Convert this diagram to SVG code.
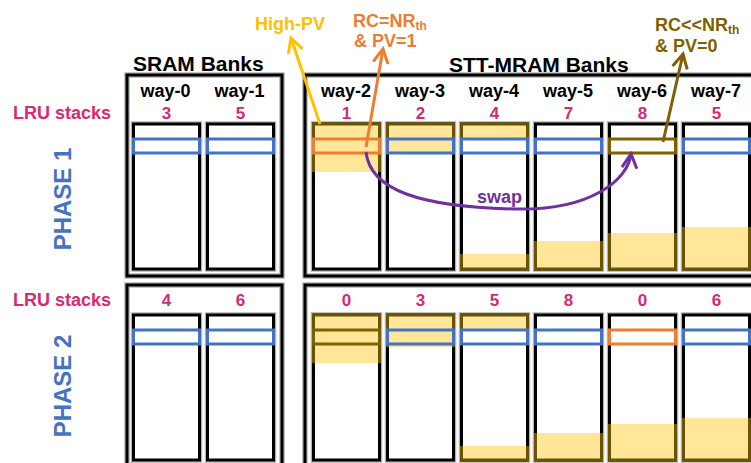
<svg xmlns="http://www.w3.org/2000/svg" width="751" height="463" viewBox="0 0 751 463">
  <style>
    text { font-family: "Liberation Sans", Arial, sans-serif; font-weight: bold; }
    .title { font-size: 21px; fill: #000; }
    .way { font-size: 18px; fill: #000; text-anchor: middle; }
    .lru { font-size: 17px; fill: #D62A72; text-anchor: middle; }
    .lrulbl { font-size: 18px; fill: #D62A72; }
    .phase { font-size: 24px; fill: #4472C4; text-anchor: middle; }
    .bank { fill: none; stroke: #000; stroke-width: 3; }
    .halo { fill: none; stroke: #b4b4b4; stroke-width: 5.5; }
    .col { fill: #fff; stroke: #000; stroke-width: 3; }
    .fill { fill: #FFE699; stroke: none; }
    .edge { fill: none; stroke: #6B5300; stroke-width: 3; }
    .row { fill: none; stroke-width: 3; }
    .blue { stroke: #4472C4; }
    .orange { stroke: #ED7D31; }
    .olive { stroke: #7F6000; }
    .ptr { fill: none; stroke-width: 3; }
  </style>
  <defs>
    <marker id="ah-yellow" markerUnits="userSpaceOnUse" markerWidth="30" markerHeight="30" viewBox="-20 -15 30 30" refX="0" refY="0" orient="auto" overflow="visible">
      <path d="M-14,-7.5 L0,0 L-14,7.5" fill="none" stroke="#FFC000" stroke-width="3"/>
    </marker>
    <marker id="ah-orange" markerUnits="userSpaceOnUse" markerWidth="30" markerHeight="30" viewBox="-20 -15 30 30" refX="0" refY="0" orient="auto" overflow="visible">
      <path d="M-14,-7.5 L0,0 L-14,7.5" fill="none" stroke="#ED7D31" stroke-width="3"/>
    </marker>
    <marker id="ah-olive" markerUnits="userSpaceOnUse" markerWidth="30" markerHeight="30" viewBox="-20 -15 30 30" refX="0" refY="0" orient="auto" overflow="visible">
      <path d="M-14,-7.5 L0,0 L-14,7.5" fill="none" stroke="#7F6000" stroke-width="3"/>
    </marker>
    <marker id="ah-purple" markerUnits="userSpaceOnUse" markerWidth="30" markerHeight="30" viewBox="-20 -15 30 30" refX="0" refY="0" orient="auto" overflow="visible">
      <path d="M-14,-7.5 L0,0 L-14,7.5" fill="none" stroke="#7030A0" stroke-width="3"/>
    </marker>
  </defs>

  <rect width="751" height="463" fill="#fff"/>

  <!-- bank titles -->
  <text class="title" x="133" y="71">SRAM Banks</text>
  <text class="title" x="449" y="71.5">STT-MRAM Banks</text>

  <!-- bank enclosures -->
  <g id="banks">
    <rect class="halo" x="127" y="75" width="155" height="201"/>
    <rect class="bank" x="127" y="75" width="155" height="201"/>
    <rect class="halo" x="305" y="75" width="460" height="201"/>
    <rect class="bank" x="305" y="75" width="460" height="201"/>
    <rect class="halo" x="127" y="285" width="155" height="200"/>
    <rect class="bank" x="127" y="285" width="155" height="200"/>
    <rect class="halo" x="305" y="285" width="460" height="200"/>
    <rect class="bank" x="305" y="285" width="460" height="200"/>
  </g>

  <!-- side labels -->
  <text class="lrulbl" x="13" y="119">LRU stacks</text>
  <text class="lrulbl" x="13" y="306">LRU stacks</text>
  <text class="phase" transform="translate(71,199) rotate(-90)">PHASE 1</text>
  <text class="phase" transform="translate(71,386) rotate(-90)">PHASE 2</text>

  <!-- way headers -->
  <g id="way-headers">
    <text class="way" x="165.5" y="97">way-0</text>
    <text class="way" x="239.5" y="97">way-1</text>
    <text class="way" x="346" y="97">way-2</text>
    <text class="way" x="420" y="97">way-3</text>
    <text class="way" x="494" y="97">way-4</text>
    <text class="way" x="568" y="97">way-5</text>
    <text class="way" x="642" y="97">way-6</text>
    <text class="way" x="716" y="97">way-7</text>
  </g>

  <!-- ===== PHASE 1 ===== -->
  <g id="p1-way-0">
    <text class="lru" x="166.5" y="119">3</text>
    <rect class="halo" x="133.5" y="124" width="66" height="145"/>
    <rect class="col" x="133.5" y="124" width="66" height="145"/>
    <rect class="row blue" x="133.5" y="139" width="66" height="14"/>
  </g>
  <g id="p1-way-1">
    <text class="lru" x="240.5" y="119">5</text>
    <rect class="halo" x="207.5" y="124" width="66" height="145"/>
    <rect class="col" x="207.5" y="124" width="66" height="145"/>
    <rect class="row blue" x="207.5" y="139" width="66" height="14"/>
  </g>
  <g id="p1-way-2">
    <text class="lru" x="346.5" y="119">1</text>
    <rect class="halo" x="313.5" y="124" width="66" height="145"/>
    <rect class="col" x="313.5" y="124" width="66" height="145"/>
    <rect class="fill" x="313.5" y="124" width="66" height="48"/>
    <path class="edge" d="M313.5,172 V124 H379.5 V172"/>
    <rect class="row orange" x="313.5" y="139" width="66" height="14"/>
  </g>
  <g id="p1-way-3">
    <text class="lru" x="420.5" y="119">2</text>
    <rect class="halo" x="387.5" y="124" width="66" height="145"/>
    <rect class="col" x="387.5" y="124" width="66" height="145"/>
    <rect class="fill" x="387.5" y="124" width="66" height="30"/>
    <path class="edge" d="M387.5,154 V124 H453.5 V154"/>
    <rect class="row blue" x="387.5" y="139" width="66" height="14"/>
  </g>
  <g id="p1-way-4">
    <text class="lru" x="494.5" y="119">4</text>
    <rect class="halo" x="461.5" y="124" width="66" height="145"/>
    <rect class="col" x="461.5" y="124" width="66" height="145"/>
    <rect class="fill" x="461.5" y="124" width="66" height="15"/>
    <path class="edge" d="M461.5,139 V124 H527.5 V139"/>
    <rect class="fill" x="461.5" y="254" width="66" height="15"/>
    <path class="edge" d="M461.5,254 V269 H527.5 V254"/>
    <rect class="row blue" x="461.5" y="139" width="66" height="14"/>
  </g>
  <g id="p1-way-5">
    <text class="lru" x="568.5" y="119">7</text>
    <rect class="halo" x="535.5" y="124" width="66" height="145"/>
    <rect class="col" x="535.5" y="124" width="66" height="145"/>
    <rect class="fill" x="535.5" y="241" width="66" height="28"/>
    <path class="edge" d="M535.5,241 V269 H601.5 V241"/>
    <rect class="row blue" x="535.5" y="139" width="66" height="14"/>
  </g>
  <g id="p1-way-6">
    <text class="lru" x="642.5" y="119">8</text>
    <rect class="halo" x="609.5" y="124" width="66" height="145"/>
    <rect class="col" x="609.5" y="124" width="66" height="145"/>
    <rect class="fill" x="609.5" y="233" width="66" height="36"/>
    <path class="edge" d="M609.5,233 V269 H675.5 V233"/>
    <rect class="row olive" x="609.5" y="139" width="66" height="14"/>
  </g>
  <g id="p1-way-7">
    <text class="lru" x="716.5" y="119">5</text>
    <rect class="halo" x="683.5" y="124" width="66" height="145"/>
    <rect class="col" x="683.5" y="124" width="66" height="145"/>
    <rect class="fill" x="683.5" y="227" width="66" height="42"/>
    <path class="edge" d="M683.5,227 V269 H749.5 V227"/>
    <rect class="row blue" x="683.5" y="139" width="66" height="14"/>
  </g>

  <!-- ===== PHASE 2 ===== -->
  <g id="p2-way-0">
    <text class="lru" x="166.5" y="306">4</text>
    <rect class="halo" x="133.5" y="315" width="66" height="145"/>
    <rect class="col" x="133.5" y="315" width="66" height="145"/>
    <rect class="row blue" x="133.5" y="330" width="66" height="14"/>
  </g>
  <g id="p2-way-1">
    <text class="lru" x="240.5" y="306">6</text>
    <rect class="halo" x="207.5" y="315" width="66" height="145"/>
    <rect class="col" x="207.5" y="315" width="66" height="145"/>
    <rect class="row blue" x="207.5" y="330" width="66" height="14"/>
  </g>
  <g id="p2-way-2">
    <text class="lru" x="346.5" y="306">0</text>
    <rect class="halo" x="313.5" y="315" width="66" height="145"/>
    <rect class="col" x="313.5" y="315" width="66" height="145"/>
    <rect class="fill" x="313.5" y="315" width="66" height="48"/>
    <path class="edge" d="M313.5,363 V315 H379.5 V363"/>
    <rect class="row olive" x="313.5" y="330" width="66" height="14"/>
  </g>
  <g id="p2-way-3">
    <text class="lru" x="420.5" y="306">3</text>
    <rect class="halo" x="387.5" y="315" width="66" height="145"/>
    <rect class="col" x="387.5" y="315" width="66" height="145"/>
    <rect class="fill" x="387.5" y="315" width="66" height="32"/>
    <path class="edge" d="M387.5,347 V315 H453.5 V347"/>
    <rect class="row blue" x="387.5" y="330" width="66" height="14"/>
  </g>
  <g id="p2-way-4">
    <text class="lru" x="494.5" y="306">5</text>
    <rect class="halo" x="461.5" y="315" width="66" height="145"/>
    <rect class="col" x="461.5" y="315" width="66" height="145"/>
    <rect class="fill" x="461.5" y="315" width="66" height="15"/>
    <path class="edge" d="M461.5,330 V315 H527.5 V330"/>
    <rect class="fill" x="461.5" y="446" width="66" height="14"/>
    <path class="edge" d="M461.5,446 V460 H527.5 V446"/>
    <rect class="row blue" x="461.5" y="330" width="66" height="14"/>
  </g>
  <g id="p2-way-5">
    <text class="lru" x="568.5" y="306">8</text>
    <rect class="halo" x="535.5" y="315" width="66" height="145"/>
    <rect class="col" x="535.5" y="315" width="66" height="145"/>
    <rect class="fill" x="535.5" y="433" width="66" height="27"/>
    <path class="edge" d="M535.5,433 V460 H601.5 V433"/>
    <rect class="row blue" x="535.5" y="330" width="66" height="14"/>
  </g>
  <g id="p2-way-6">
    <text class="lru" x="642.5" y="306">0</text>
    <rect class="halo" x="609.5" y="315" width="66" height="145"/>
    <rect class="col" x="609.5" y="315" width="66" height="145"/>
    <rect class="fill" x="609.5" y="424" width="66" height="36"/>
    <path class="edge" d="M609.5,424 V460 H675.5 V424"/>
    <rect class="row orange" x="609.5" y="330" width="66" height="14"/>
  </g>
  <g id="p2-way-7">
    <text class="lru" x="716.5" y="306">6</text>
    <rect class="halo" x="683.5" y="315" width="66" height="145"/>
    <rect class="col" x="683.5" y="315" width="66" height="145"/>
    <rect class="fill" x="683.5" y="418" width="66" height="42"/>
    <path class="edge" d="M683.5,418 V460 H749.5 V418"/>
    <rect class="row blue" x="683.5" y="330" width="66" height="14"/>
  </g>

  <!-- callouts and the swap path -->
  <g id="connectors">
    <path class="ptr" stroke="#FFC000" d="M320,124 L291,38" marker-end="url(#ah-yellow)"/>
    <path class="ptr" stroke="#ED7D31" d="M366,147 L383,49" marker-end="url(#ah-orange)"/>
    <path class="ptr" stroke="#7F6000" d="M663,142 L683,54" marker-end="url(#ah-olive)"/>
    <path class="ptr" stroke="#7030A0" d="M366,152 C370,190 420,207 515,209 C590,211 628,180 631,154" marker-end="url(#ah-purple)"/>
  </g>

  <!-- callout texts -->
  <g id="labels">
    <text x="255" y="30" font-size="18" fill="#FFC000">High-PV</text>
    <text x="353" y="27" font-size="18" fill="#ED7D31">RC=NR<tspan font-size="12" dy="3">th</tspan></text>
    <text x="354" y="47" font-size="18" fill="#ED7D31">&amp; PV=1</text>
    <text x="655" y="30.5" font-size="18" fill="#7F6000">RC&lt;&lt;NR<tspan font-size="12" dy="3">th</tspan></text>
    <text x="655" y="51.5" font-size="18" fill="#7F6000">&amp; PV=0</text>
    <text x="477" y="203" font-size="18" fill="#7030A0">swap</text>
  </g>
</svg>
